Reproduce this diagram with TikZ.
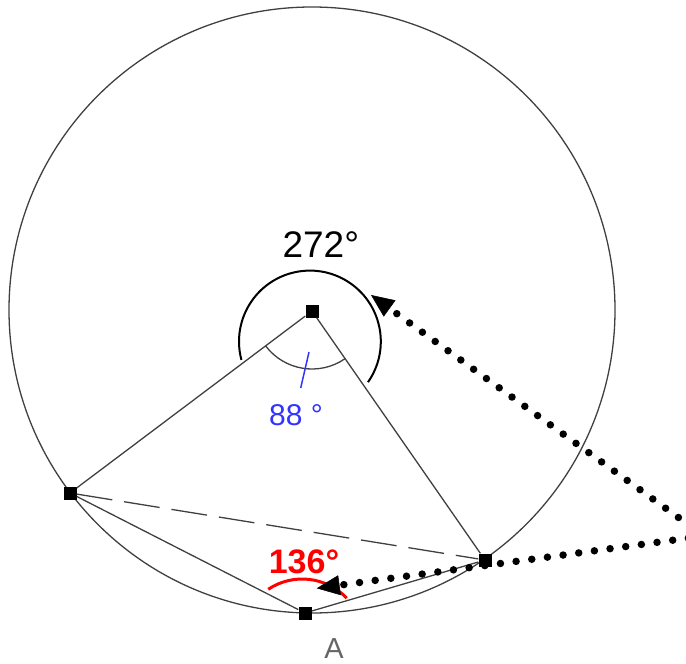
\documentclass[tikz,border=0pt]{standalone}
\usepackage{fontspec}
\setmainfont{Liberation Sans}
\usetikzlibrary{arrows.meta}

\begin{document}
\begin{tikzpicture}[
    x=1pt, y=-1pt,
    pt/.style={draw=none, fill=black, minimum size=13pt, inner sep=0pt},
    seg/.style={draw=black!75, line width=1.3pt},
    ang/.style={line width=2pt},
    dots/.style={line width=7.5pt, line cap=round, dash pattern=on 0pt off 15.8pt,
        -{Triangle[length=23pt, width=20pt, line width=0.5pt]}},
    lbl/.style={inner sep=0pt, anchor=base}
]
\useasboundingbox (0,0) rectangle (686,664);

% circle and its points
\coordinate (M) at (312,310);
\draw[seg] (M) circle[radius=303];

\node[pt] (O) at (312,311) {};
\node[pt] (L) at (70,493) {};
\node[pt] (R) at (485,560) {};
\node[pt] (A) at (305,613) {};

\draw[seg] (O) -- (L);
\draw[seg] (O) -- (R);
\draw[seg] (L) -- (A);
\draw[seg] (A) -- (R);
\draw[seg, dash pattern=on 36pt off 12pt] (L) -- (R);

% angle marks
\draw[ang] (309.9,341.5) ++(35:70.9) arc[start angle=35, end angle=-195, radius=70.9];
\draw[seg] (O.center) ++(143.05:58) arc[start angle=143.05, end angle=55.2, radius=58];
\draw[draw={rgb,255:red,51;green,51;blue,255}, line width=1.5pt] (309,352) -- (300.7,388);
\draw[red, line width=3pt] (302.2,640.2) ++(-123.7:61.2) arc[start angle=-123.7, end angle=-43.3, radius=61.2];

% labels
\node[lbl, font=\fontsize{37}{40}\selectfont] (t272) at (320.8,257) {272°};
\node[lbl, text=red, font=\fontsize{34}{36}\selectfont\bfseries] (t136) at (304,573) {136°};
\node[lbl, text={rgb,255:red,51;green,51;blue,255}, font=\fontsize{30}{32}\selectfont] (t88) at (296,425) {88 °};
\node[lbl, text=black!60, font=\fontsize{29}{31}\selectfont] (tA) at (334,658) {A};

% pointers
\coordinate (apex) at (704,536);
\coordinate (tipU) at (371,295);
\coordinate (tipL) at (316.7,588.3);
\draw[dots] (apex) -- (tipU);
\draw[dots] (apex) -- (tipL);

\end{tikzpicture}
\end{document}
